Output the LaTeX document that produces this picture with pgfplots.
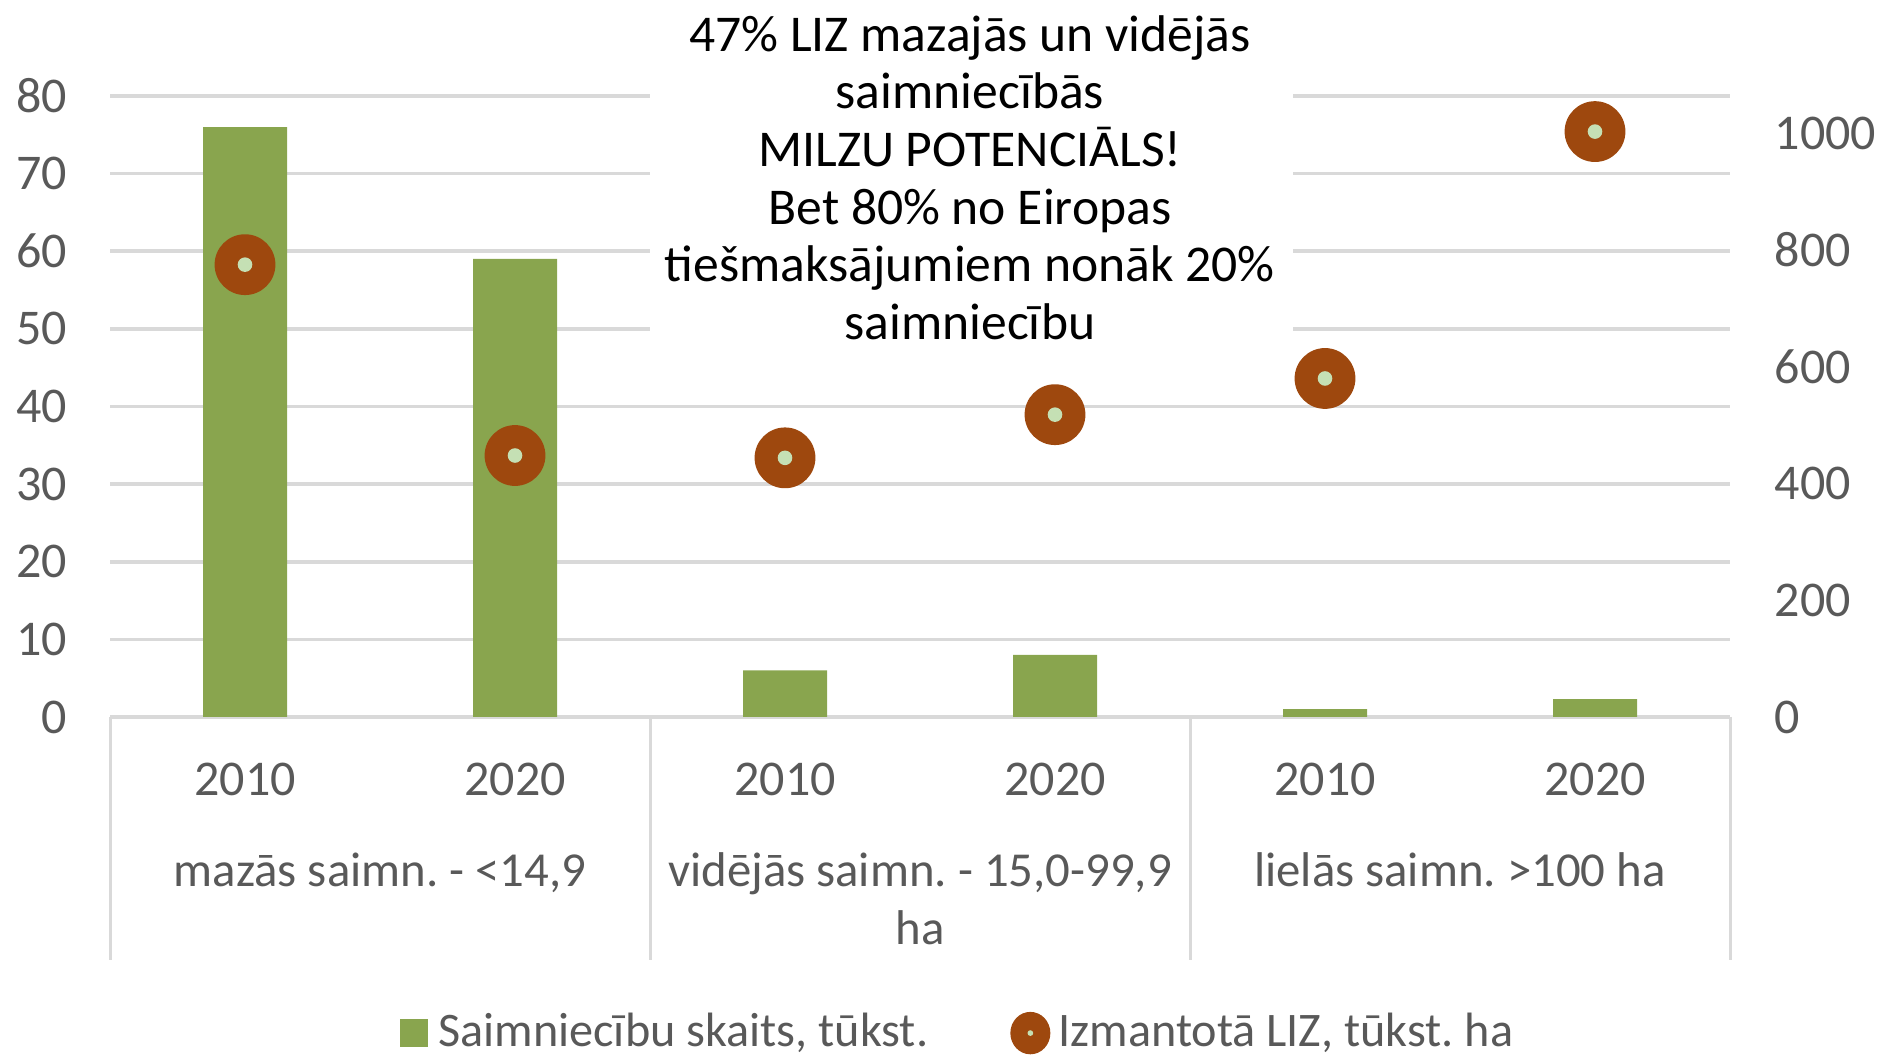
\documentclass[border=0pt]{standalone}
\usepackage{fontspec}
\setmainfont{Carlito}
\usepackage{pgfplots}
\pgfplotsset{compat=1.18}

\definecolor{barg}{RGB}{137,165,78}
\definecolor{brownc}{RGB}{158,72,14}
\definecolor{dotg}{RGB}{197,224,180}
\definecolor{gridc}{RGB}{217,217,217}
\definecolor{labc}{RGB}{89,89,89}

% ring marker: brown disc with a small light green dot
\pgfdeclareplotmark{donut}{%
  \pgfpathcircle{\pgfpointorigin}{\pgfplotmarksize}%
  \pgfsetfillcolor{brownc}\pgfusepathqfill
  \pgfpathcircle{\pgfpointorigin}{0.24\pgfplotmarksize}%
  \pgfsetfillcolor{dotg}\pgfusepathqfill}

\begin{document}
\frenchspacing
\begin{tikzpicture}[font=\fontsize{12.5}{15}\selectfont]
\path[use as bounding box] (0,0) rectangle (470pt,264pt);
\pgfplotsset{common/.style={
    scale only axis, width=405pt, height=155.25pt,
    at={(27.5pt,84.75pt)}, anchor=south west,
    xmin=-0.5, xmax=5.5, clip=false,
    /pgf/number format/assume math mode=true,
    /pgf/number format/1000 sep={},
    tick label style={font=\fontsize{12.5}{15}\selectfont, text=labc},
    major tick length=0pt,
}}
\begin{axis}[common,
    ybar, bar width=21pt,
    ymin=0, ymax=80, ytick={0,10,...,80},
    ymajorgrids, grid style={gridc, line width=0.9pt},
    axis x line*=bottom, axis y line*=left,
    y axis line style={draw=none},
    x axis line style={gridc, line width=1pt, -},
    xtick={0,...,5},
    xticklabels={2010,2020,2010,2020,2010,2020},
    xticklabel style={anchor=base, yshift=-19.75pt},
    yticklabel style={anchor=east, inner sep=0pt, xshift=-10.5pt},
    extra x ticks={0.5,2.5,4.5},
    extra x tick labels={{mazās saimn. - <14,9},
      {\begin{tabular}[t]{@{}c@{}}vidējās saimn. - 15,0-99,9\\[-0.5pt]ha\end{tabular}},
      {lielās saimn. >100 ha}},
    extra x tick style={grid=none, xticklabel style={yshift=-22.75pt, font=\fontsize{12.2}{15}\selectfont}},
  ]
  \addplot[fill=barg, draw=none] coordinates {(0,76) (1,59) (2,6) (3,8) (4,1) (5,2.3)};
  \draw[gridc, line width=0.75pt] (axis cs:-0.5,0) -- ++(0pt,-60.75pt);
  \draw[gridc, line width=0.75pt] (axis cs:1.5,0) -- ++(0pt,-60.75pt);
  \draw[gridc, line width=0.75pt] (axis cs:3.5,0) -- ++(0pt,-60.75pt);
  \draw[gridc, line width=0.75pt] (axis cs:5.5,0) -- ++(0pt,-60.75pt);
  \fill[white] (axis cs:1.5,42) rectangle (axis cs:3.88,92);
  \node[align=center, font=\fontsize{12.9}{14.4}\selectfont, text=black] at (axis cs:2.685,69.5)
    {47\% LIZ mazajās un vidējās\\saimniecībās\\MILZU POTENCIĀLS!\\Bet 80\% no Eiropas\\tiešmaksājumiem nonāk 20\%\\saimniecību};
\end{axis}
\begin{axis}[common,
    ymin=0, ymax=1064, ytick={0,200,...,1000},
    axis y line*=right, axis x line=none,
    y axis line style={draw=none},
    yticklabel style={anchor=west, inner sep=0pt, xshift=11pt},
    legend columns=2, legend cell align=left,
    legend style={at={(0.525,-0.509)}, anchor=center, draw=none, fill=none,
      font=\fontsize{12.05}{15}\selectfont, text=labc,
      /tikz/every even column/.append style={column sep=18.5pt}},
  ]
  \addlegendimage{legend image code/.code={\fill[barg] (0pt,-3.3pt) rectangle (6.6pt,3.3pt);
      \path[draw=none] (0pt,0pt) -- (7.5pt,0pt);}}
  \addlegendentry{Saimniecību skaits, tūkst.}
  \addplot[only marks, mark=donut, mark size=7.6pt,
    legend image code/.code={\fill[brownc] (4.8pt,0pt) ellipse (4.8pt and 5.1pt);
      \fill[dotg] (4.8pt,0pt) circle (0.5pt);}]
    coordinates {(0,775) (1,448) (2,444) (3,518) (4,580) (5,1003)};
  \addlegendentry{Izmantotā LIZ, tūkst. ha}
\end{axis}
\end{tikzpicture}
\end{document}
